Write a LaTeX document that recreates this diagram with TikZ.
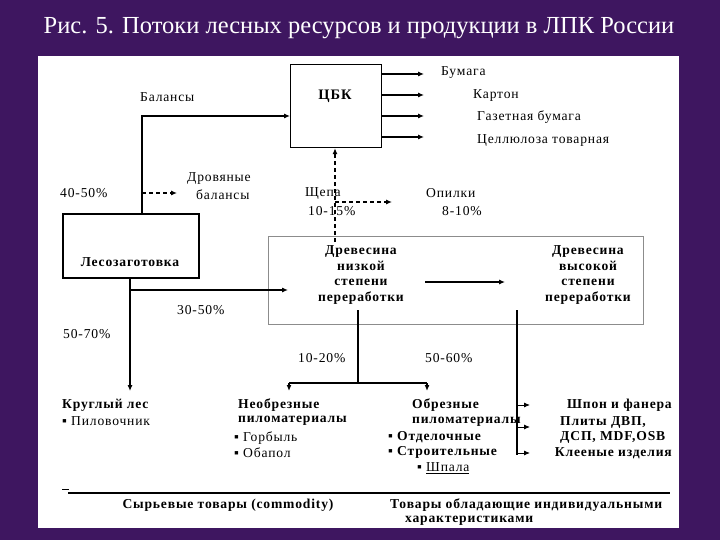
\documentclass[tikz,border=0pt]{standalone}
\usepackage{fontspec}
\setmainfont{Liberation Serif}
\newfontfamily\lsfont[LetterSpace=6]{Liberation Serif}
\usetikzlibrary{arrows.meta}
\definecolor{bgpurple}{RGB}{62,22,96}
\definecolor{boxgray}{RGB}{140,140,140}
\newcommand{\nf}{\lsfont\fontsize{13.6}{15.5}\selectfont}
\newcommand{\bnf}{\lsfont\bfseries\fontsize{13.6}{15.5}\selectfont}
\tikzset{
  txt/.style={inner sep=0pt, font=\nf, anchor=west},
  btxt/.style={inner sep=0pt, font=\bnf, anchor=west},
  arr/.style={-{Latex[length=6pt,width=5pt]}, line width=1.1pt},
  darr/.style={arr, dashed, dash pattern=on 4pt off 3pt},
  thick2/.style={line width=2pt},
  boxn/.style={draw, inner sep=0pt, anchor=north west}
}
\begin{document}
\begin{tikzpicture}[x=1pt,y=-1pt]
\useasboundingbox (0,0) rectangle (720,540);
\fill[bgpurple] (0,0) rectangle (720,540);
\fill[white] (38,56) rectangle (679,528);
% title
\node[text=white, inner sep=0pt, font=\fontsize{24.5}{28}\selectfont] (title) at (359,28) {Рис. 5. Потоки лесных ресурсов и продукции в ЛПК России};

% boxes
\node[boxn, line width=1.2pt, minimum width=91pt, minimum height=83pt] (cbk) at (290,64) {};
\node[inner sep=0pt, font=\lsfont\bfseries\fontsize{14.5}{16}\selectfont] (cbkl) at (335,96) {ЦБК};
\node[boxn, line width=2pt, minimum width=136pt, minimum height=64pt] (les) at (62,213) {};
\node[inner sep=0pt, font=\bnf] (lesl) at (130,262) {Лесозаготовка};
\node[boxn, draw=boxgray, line width=1.3pt, minimum width=375pt, minimum height=88pt] (gray) at (268,236) {};
\node[inner sep=0pt, font=\bnf, align=center] (low) at (361,275) {Древесина\\низкой\\степени\\переработки};
\node[inner sep=0pt, font=\bnf, align=center] (high) at (588,275) {Древесина\\высокой\\степени\\переработки};

% labels top
\node[txt] (bal) at (140,97) {Балансы};
\node[txt] (o1) at (441,73) {Бумага};
\node[txt] (o2) at (473,95) {Картон};
\node[txt] (o3) at (477,117) {Газетная бумага};
\node[txt] (o4) at (477,140) {Целлюлоза товарная};
\node[txt] (p4050) at (60,193) {40-50\%};
\node[txt] (drov1) at (187,178) {Дровяные};
\node[txt] (drov2) at (196,195) {балансы};
\node[txt] (shchepa) at (305,193) {Щепа};
\node[txt] (p1015) at (308,211) {10-15\%};
\node[txt] (opil) at (426,193) {Опилки};
\node[txt] (p810) at (442,211) {8-10\%};
\node[txt] (p3050) at (177,310) {30-50\%};
\node[txt] (p5070) at (63,334) {50-70\%};
\node[txt] (p1020) at (298,358) {10-20\%};
\node[txt] (p5060) at (425,358) {50-60\%};

% bottom groups
\node[btxt] (krug) at (62,405) {Круглый лес};
\node[txt] (pilov) at (62,421) {▪ Пиловочник};
\node[btxt] (neob1) at (238,405) {Необрезные};
\node[btxt] (neob2) at (238,421) {пиломатериалы};
\node[txt] (gorb) at (234,438) {▪ Горбыль};
\node[txt] (obap) at (234,453) {▪ Обапол};
\node[btxt] (obr1) at (412,405) {Обрезные};
\node[btxt] (obr2) at (412,422) {пиломатериалы};
\node[btxt] (otd) at (388,437) {▪ Отделочные};
\node[btxt] (str) at (388,452) {▪ Строительные};
\node[txt] (shpala) at (417,468) {▪ \underline{Шпала}};
\node[btxt, anchor=east] (shpon) at (672,405) {Шпон и фанера};
\node[btxt] (plity) at (560,422) {Плиты ДВП,};
\node[btxt] (dsp) at (560,437) {ДСП, MDF,OSB};
\node[btxt, anchor=east] (klee) at (672,453) {Клееные изделия};
\node[inner sep=0pt, font=\bnf] (syr) at (228,505) {Сырьевые товары (commodity)};
\node[btxt] (tov1) at (390,505) {Товары обладающие индивидуальными};
\node[btxt] (tov2) at (405,521) {характеристиками};

% coordinates
\coordinate (balx) at (142,116);
\coordinate (drovend) at (177,193);
\coordinate (drovst) at (142,193);
\coordinate (shst) at (335,242);
\coordinate (shmid) at (335,202);
\coordinate (shend) at (392,202);
\coordinate (lesx) at (130,290);
\coordinate (krugtop) at (130,391);
\coordinate (grayin) at (288,290);
\coordinate (lowbot) at (358,310);
\coordinate (split) at (358,383);
\coordinate (splL) at (289,383);
\coordinate (splR) at (427,383);
\coordinate (splLe) at (289,391);
\coordinate (splRe) at (427,391);
\coordinate (inA) at (425,282);
\coordinate (inB) at (505,282);
\coordinate (vtop) at (517,310);
\coordinate (vbot) at (517,455);
\coordinate (bl1) at (68,493);
\coordinate (bl2) at (670,493);

% connectors
\draw[arr] (les.north -| balx) |- (cbk.west |- balx);
\foreach \yy/\n in {74/1,95/2,116/3,137/4}{
  \coordinate (oe\n) at (424,\yy);
  \draw[arr] (cbk.east |- oe\n) -- (oe\n);
}
\draw[darr] (drovst) -- (drovend);
\draw[darr] (shst) -- (cbk.south -| shst);
\draw[darr] (shmid) -- (shend);
\draw[line width=1.1pt] (les.south -| lesx) -- (lesx);
\draw[arr] (lesx) -- (krugtop);
\draw[arr] (lesx) -- (grayin);
\draw[arr] (inA) -- (inB);
\draw[thick2] (lowbot) -- (split);
\draw[thick2] (splL) -- (splR);
\draw[arr, line width=1.6pt] (splL) -- (splLe);
\draw[arr, line width=1.6pt] (splR) -- (splRe);
\draw[thick2] (vtop) -- (vbot);
\foreach \yy/\n in {405/1,427/2,453/3}{
  \coordinate (ve\n) at (530,\yy);
  \draw[arr, line width=0.9pt] (vtop |- ve\n) -- (ve\n);
}
\draw[line width=2.5pt] (bl1) -- (bl2);
\draw[line width=0.8pt] (62,489) -- (69,489);
\end{tikzpicture}
\end{document}
